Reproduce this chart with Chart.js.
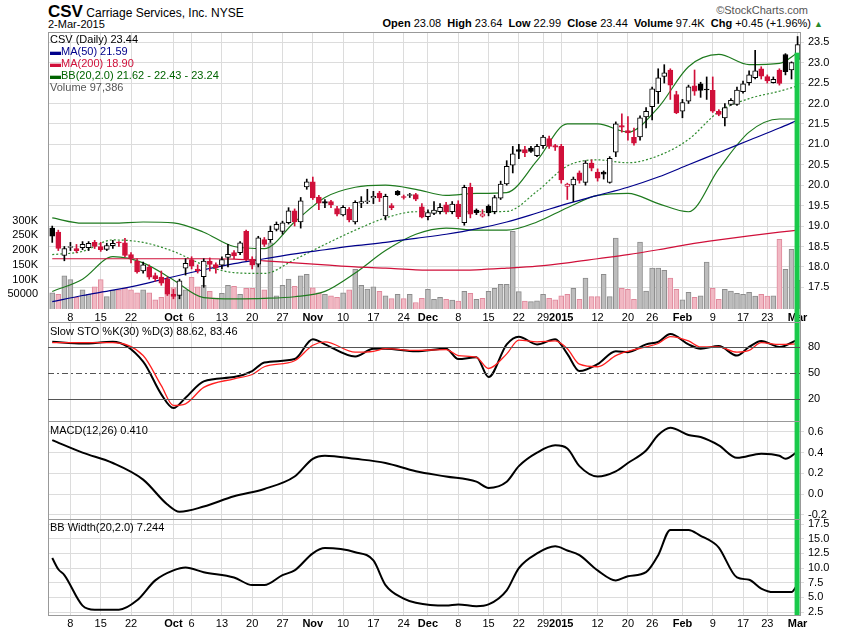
<!DOCTYPE html>
<html>
<head>
<meta charset="utf-8">
<script src="https://cdn.jsdelivr.net/npm/chart.js@4.4.1/dist/chart.umd.min.js"></script>
<style>
  body { margin: 0; background: #fff; font-family: "Liberation Sans", Arial, sans-serif; }
  #wrap { position: relative; width: 850px; height: 633px; overflow: hidden; }
  .pane { position: absolute; left: 0; width: 850px; }
  .txt { position: absolute; font-size: 11px; white-space: nowrap; z-index: 5; }
  .lg div { line-height: 12px; }
  b { font-weight: bold; }
</style>
</head>
<body>
<div id="wrap">
  <div class="txt" style="left:48px;top:2px;font-size:12px;"><b style="font-size:17px;">CSV</b> Carriage Services, Inc. NYSE</div>
  <div class="txt" style="left:48px;top:18px;font-size:11px;">2-Mar-2015</div>
  <div class="txt" style="right:42px;top:4px;color:#555;">©StockCharts.com</div>
  <div class="txt" style="right:27px;top:17px;"><b>Open</b> 23.08 &nbsp;<b>High</b> 23.64 &nbsp;<b>Low</b> 22.99 &nbsp;<b>Close</b> 23.44 &nbsp;<b>Volume</b> 97.4K &nbsp;<b>Chg</b> +0.45 (+1.96%) <span style="color:#2a8a2a;font-size:9px;">▲</span></div>
  <div class="txt lg" style="left:50px;top:33px;">
    <div>CSV (Daily) 23.44</div>
    <div style="color:#00008b;">▬MA(50) 21.59</div>
    <div style="color:#d0103a;">▬MA(200) 18.90</div>
    <div style="color:#006400;">▬BB(20,2.0) 21.62 - 22.43 - 23.24</div>
    <div style="color:#555;">Volume 97,386</div>
  </div>
  <div class="txt" style="left:50px;top:325px;">Slow STO %K(30) %D(3) 88.62, 83.46</div>
  <div class="txt" style="left:50px;top:424px;">MACD(12,26) 0.410</div>
  <div class="txt" style="left:50px;top:521px;">BB Width(20,2.0) 7.244</div>
  <div class="pane" style="top:32px;height:290px;"><canvas id="cMain"></canvas></div>
  <div class="pane" style="top:322px;height:99px;"><canvas id="cSto"></canvas></div>
  <div class="pane" style="top:421px;height:98px;"><canvas id="cMacd"></canvas></div>
  <div class="pane" style="top:519px;height:114px;"><canvas id="cBbw"></canvas></div>
</div>
<script>
// ---- eixo de datas (pregões de 3-set-2014 a 2-mar-2015) ----
const tickIdx = [3, 8, 13, 20, 23, 28, 33, 38, 43, 48, 53, 58, 62, 67, 72, 77, 81, 84, 90, 95, 99, 104, 109, 114, 118, 123];
const tickTexts = ['8', '15', '22', 'Oct', '6', '13', '20', '27', 'Nov', '10', '17', '24', 'Dec', '8', '15', '22', '29', '2015', '12', '20', '26', 'Feb', '9', '17', '23', 'Mar'];

// ---- preços diários ----
const opens = [18.95,18.85,18.28,18.48,18.45,18.47,18.47,18.60,18.50,18.43,18.52,18.59,18.59,18.30,18.14,17.90,17.99,17.79,17.75,17.71,
  17.33,17.30,17.97,18.18,17.95,17.76,18.14,18.06,18.04,18.23,18.35,18.35,18.87,18.19,18.07,18.67,18.67,18.92,18.87,19.08,19.37,19.10,19.96,
  20.08,19.71,19.60,19.60,19.43,19.27,19.41,19.10,19.56,19.60,19.69,19.81,19.25,19.50,19.85,19.70,19.75,19.77,19.47,
  19.23,19.31,19.35,19.52,19.35,19.54,19.08,19.95,19.39,19.24,19.48,19.35,19.68,20.03,20.49,20.87,20.87,20.91,20.72,20.97,21.14,20.97,
  20.95,19.97,20.01,20.30,20.07,20.54,20.32,20.32,20.07,20.81,21.46,21.34,21.17,21.18,21.67,21.92,22.29,22.66,22.82,22.22,
  21.81,22.06,22.43,22.48,22.33,22.32,21.81,21.65,21.98,21.98,22.29,22.51,22.63,22.85,22.66,22.51,22.82,23.20,22.82,
  23.08];
const closes = [18.75,18.45,18.45,18.50,18.40,18.55,18.58,18.50,18.42,18.52,18.58,18.57,18.28,18.22,17.88,18.05,17.75,17.71,17.60,17.33,
  17.28,17.66,18.09,18.02,17.91,18.14,18.06,17.98,18.18,18.31,18.27,18.59,18.19,18.04,18.71,18.55,18.87,19.04,19.08,19.37,19.10,19.62,20.08,
  19.69,19.56,19.56,19.52,19.29,19.46,19.15,19.58,19.60,19.61,19.73,19.69,19.73,19.45,19.77,19.70,19.77,19.66,19.22,
  19.33,19.39,19.46,19.35,19.54,19.23,19.95,19.29,19.33,19.30,19.33,19.70,20.03,20.46,20.77,20.83,20.79,20.83,20.95,21.18,20.95,20.93,
  20.13,20.03,20.15,20.12,20.54,20.42,20.17,20.27,20.66,21.50,21.42,21.28,21.03,21.65,21.81,22.36,22.63,22.75,22.45,21.77,
  22.02,22.41,22.30,22.32,22.33,21.81,21.73,21.90,22.08,22.33,22.48,22.70,22.80,22.67,22.55,22.59,22.49,22.78,23.00,
  23.44];
const highs = [19.00,18.90,18.50,18.60,18.55,18.62,18.62,18.65,18.60,18.58,18.65,18.62,18.70,18.35,18.20,18.12,18.05,17.85,17.90,17.75,
  17.45,17.70,18.20,18.25,18.05,18.20,18.22,18.10,18.25,18.55,18.40,18.62,18.90,18.25,18.75,18.72,19.00,19.10,19.12,19.45,19.42,19.70,20.15,
  20.20,19.75,19.65,19.63,19.48,19.50,19.45,19.62,19.72,19.90,19.85,19.85,19.78,19.55,19.87,19.76,19.80,19.80,19.55,
  19.40,19.60,19.55,19.58,19.60,19.62,20.00,20.05,19.42,19.40,19.52,19.75,20.10,20.60,20.95,21.00,20.95,20.95,21.00,21.22,21.20,21.00,
  21.00,20.05,20.20,20.35,20.60,20.62,20.40,20.35,20.70,21.55,21.75,21.68,21.40,21.70,21.90,22.40,22.85,22.95,22.85,22.30,
  22.10,22.45,22.82,22.52,22.65,22.65,21.85,22.00,22.12,22.40,22.55,22.80,23.30,22.90,22.70,22.65,22.85,23.22,23.02,
  23.64];
const lows = [18.60,18.40,18.15,18.40,18.35,18.42,18.40,18.45,18.38,18.40,18.45,18.50,18.25,18.10,17.85,17.85,17.70,17.65,17.55,17.30,
  17.22,17.22,17.80,17.95,17.85,17.50,17.90,17.85,17.95,18.00,18.20,18.30,18.15,17.95,18.00,18.50,18.60,18.88,18.80,19.05,19.00,18.95,19.90,
  19.65,19.40,19.45,19.45,19.25,19.25,19.10,19.05,19.45,19.55,19.55,19.60,19.15,19.40,19.75,19.66,19.70,19.62,19.20,
  19.15,19.28,19.30,19.30,19.30,19.18,19.02,19.20,19.28,19.22,19.25,19.30,19.65,20.00,20.30,20.65,20.70,20.80,20.70,20.90,20.90,20.85,
  20.05,19.65,19.60,20.05,20.00,20.35,20.10,20.15,20.05,20.70,21.30,21.10,20.98,21.10,21.40,21.60,22.00,22.50,22.10,21.75,
  21.65,22.00,22.20,22.15,22.10,21.78,21.70,21.45,21.95,21.95,22.25,22.45,22.60,22.60,22.50,22.50,22.45,22.70,22.60,
  22.99];
const volumes = [55,50,113,100,40,65,50,75,100,42,63,65,70,65,55,65,55,31,40,72,
  73,72,65,108,75,80,60,38,53,80,77,50,70,70,180,65,225,45,80,102,77,113,118,
  72,55,50,45,40,55,65,135,80,68,75,60,45,35,50,35,50,22,36,
  67,33,40,33,30,27,60,53,33,36,60,70,84,84,264,59,27,25,28,50,36,31,
  45,50,70,33,105,42,42,118,42,241,70,67,33,227,61,139,139,131,105,67,
  31,57,40,45,159,70,33,67,61,53,50,57,44,50,44,45,237,135,203,
  97.4];

// ---- indicadores (lidos a cada poucos pregões) ----
const ovIdx = [0,5,10,15,20,25,30,35,40,45,50,55,60,65,70,75,80,85,90,95,100,105,110,115,120,123];
const ma50 = [17.15,17.3,17.43,17.58,17.76,17.93,18.08,18.2,18.32,18.42,18.52,18.6,18.7,18.8,18.93,19.1,19.32,19.55,19.75,19.95,20.2,20.5,20.8,21.1,21.4,21.59];
const ma200 = [18.2,18.2,18.2,18.2,18.2,18.2,18.19,18.15,18.1,18.05,18.0,17.97,17.93,17.92,17.93,17.97,18.02,18.1,18.2,18.3,18.42,18.55,18.66,18.76,18.85,18.9];
const bbUpper = [19.2,19.07,19.07,19.1,19.08,18.85,18.5,18.45,19.1,19.7,19.95,20.0,19.9,19.75,19.8,19.82,20.6,21.5,21.5,21.3,21.9,22.9,23.2,22.95,22.98,23.24];
const bbMid = [18.3,18.38,18.66,18.6,18.38,18.05,17.86,17.84,18.18,18.55,18.9,19.2,19.35,19.35,19.35,19.36,19.85,20.47,20.62,20.55,20.72,21.12,21.8,22.12,22.3,22.43];
const bbLower = [17.4,17.7,18.25,18.1,17.68,17.25,17.22,17.23,17.27,17.4,17.85,18.4,18.8,18.95,18.9,18.9,19.1,19.45,19.75,19.8,19.55,19.35,20.4,21.3,21.62,21.62];

const stoIdx = [0,5,10,15,18,20,22,25,30,33,35,40,43,45,50,53,55,60,65,67,70,72,75,77,80,83,85,87,90,93,95,98,100,102,105,107,110,113,115,117,120,123];
const stoK = [86,84,86,63,25,9,21,40,45,52,62,66,89,83,69,78,78,75,78,66,68,45,83,92,83,89,72,52,60,75,74,83,86,95,83,78,81,70,80,87,80,88.6];
const stoD = [85,85,85,70,35,12,14,33,43,48,57,64,82,86,74,75,78,76,77,70,68,55,72,88,86,87,78,60,57,70,75,80,84,92,87,80,80,74,76,85,83,83.5];

const macdIdx = [0,5,10,15,19,21,25,30,35,40,43,45,50,55,60,65,70,72,75,77,80,83,85,87,90,93,95,98,100,102,105,107,110,113,117,120,121,123];
const macd = [0.52,0.40,0.30,0.14,-0.10,-0.17,-0.12,-0.02,0.05,0.17,0.34,0.37,0.34,0.30,0.22,0.17,0.12,0.06,0.12,0.27,0.40,0.47,0.44,0.27,0.17,0.22,0.30,0.42,0.57,0.64,0.57,0.55,0.47,0.35,0.39,0.37,0.34,0.41];

const bbwIdx = [0,1,2,5,7,11,14,17,20,22,25,30,33,35,38,40,43,45,50,53,55,58,60,65,67,70,72,75,77,80,83,85,87,90,93,95,98,100,102,105,107,109,110,113,115,117,119,122,123];
const bbw = [11.7,9.8,8.8,3.6,2.9,2.9,4.5,7.9,9.6,10.1,9.3,8.4,7.1,7.1,8.8,9.6,12.5,13.4,12.7,11.3,7.1,4.8,4.1,3.6,3.8,3.5,3.8,6.2,10,12.5,13.7,13,12.2,9.6,7.9,8.6,9.3,12.2,16.5,16.5,15.5,14.4,13.5,8.4,8.0,6.5,5.9,5.9,7.24];

// ---- escalas ----
const priceTicks = [17.5,18.0,18.5,19.0,19.5,20.0,20.5,21.0,21.5,22.0,22.5,23.0,23.5];
const volTicks = [50000,100000,150000,200000,250000,300000];
const stoTicks = [20,50,80];
const macdTicks = [-0.2,0.0,0.2,0.4,0.6];
const bbwTicks = [2.5,5.0,7.5,10.0,12.5,15.0,17.5];

const RED = '#d0103a';
const GRID = '#dcdcdc';
const FONT = { family: '"Liberation Sans", Arial, sans-serif', size: 11 };

function pts(idx, vals) {
    return idx.map((x, i) => ({ x, y: vals[i] }));
}

// cor do candle: preto se fechou acima do anterior, vermelho se abaixo
const candleColor = closes.map((c, i) => (i > 0 && c < closes[i - 1]) ? RED : '#000');

function xScale(showLabels, hExtra) {
    return {
        type: 'linear', min: -0.7, max: 123.4, offset: false,
        afterBuildTicks: (s) => { s.ticks = tickIdx.map((v) => ({ value: v })); },
        afterFit: (s) => { s.height = hExtra; s.paddingLeft = 0; s.paddingRight = 0; },
        grid: { color: GRID, drawTicks: false, offset: false },
        border: { display: false },
        ticks: {
            display: showLabels, padding: 2, color: '#000', maxRotation: 0, autoSkip: false,
            callback: (v) => tickTexts[tickIdx.indexOf(v)],
            font: (ctx) => {
                const t = tickTexts[tickIdx.indexOf(ctx.tick && ctx.tick.value)] || '';
                return Object.assign({}, FONT, { weight: /^\d+$/.test(t) && t !== '2015' ? 'normal' : 'bold' });
            },
        },
    };
}

function rightAxis(min, max, ticks, digits, showGrid) {
    return {
        position: 'right', min, max,
        afterBuildTicks: (s) => { s.ticks = ticks.map((v) => ({ value: v })); },
        afterFit: (s) => { s.width = 50; s.paddingTop = 0; s.paddingBottom = 0; },
        grid: { display: showGrid, color: GRID, drawTicks: true, tickLength: 4 },
        border: { display: false },
        ticks: { color: '#000', font: FONT, padding: 4, autoSkip: false, callback: (v) => v.toFixed(digits) },
    };
}

// moldura + barra verde do último pregão
const framePlugin = {
    id: 'frame',
    afterDatasetsDraw(chart, args, opts) {
        const a = chart.chartArea;
        const ctx = chart.ctx;
        const xs = chart.scales.x;
        const last = xs.getPixelForValue(123);
        let top = a.top;
        if (opts.fromClose) top = chart.scales.y.getPixelForValue(closes[123]) + 8;
        ctx.save();
        ctx.fillStyle = '#19c94a';
        ctx.fillRect(last - 3, top, 5, a.bottom + (opts.extra || 0) - top);
        ctx.strokeStyle = '#999';
        ctx.lineWidth = 1;
        ctx.strokeRect(a.left + 0.5, a.top + 0.5, a.right - a.left, a.bottom - a.top + (opts.extra || 0));
        (opts.refLines || []).forEach((r) => {
            const y = Math.round(chart.scales.y.getPixelForValue(r.v)) + 0.5;
            ctx.strokeStyle = '#555';
            ctx.setLineDash(r.dash || []);
            ctx.beginPath(); ctx.moveTo(a.left, y); ctx.lineTo(a.right, y); ctx.stroke();
        });
        ctx.restore();
    },
};

const baseOpts = {
    responsive: true, maintainAspectRatio: false, animation: false,
    plugins: { legend: { display: false }, tooltip: { enabled: false } },
};

function lineDs(data, color, width, extra) {
    return Object.assign({
        type: 'line', data, borderColor: color, borderWidth: width, pointRadius: 0,
        tension: 0.4, cubicInterpolationMode: 'monotone', fill: false, order: 5, yAxisID: 'y',
    }, extra || {});
}

// ---- gráfico principal: candles + MAs + bandas + volume ----
new Chart(document.getElementById('cMain'), {
    type: 'bar',
    data: {
        datasets: [
            {
                type: 'bar', yAxisID: 'vol', order: 10, grouped: false, barThickness: 5,
                data: volumes.map((v, i) => ({ x: i, y: v * 1000 })),
                backgroundColor: candleColor.map((c) => c === RED ? '#f1b8c3' : '#bdbdbd'),
                borderColor: candleColor.map((c) => c === RED ? '#e0899c' : '#8c8c8c'),
                borderWidth: 1,
            },
            lineDs(pts(ovIdx, ma200), RED, 1.2),
            lineDs(pts(ovIdx, ma50), '#00008b', 1.2),
            lineDs(pts(ovIdx, bbUpper), '#1e7a1e', 1.2),
            lineDs(pts(ovIdx, bbLower), '#1e7a1e', 1.2),
            lineDs(pts(ovIdx, bbMid), '#2e8b2e', 1.2, { borderDash: [2, 2] }),
            {
                type: 'bar', yAxisID: 'y', order: 2, grouped: false, barThickness: 1,
                data: highs.map((h, i) => ({ x: i, y: [lows[i], h] })),
                backgroundColor: candleColor, borderWidth: 0,
            },
            {
                type: 'bar', yAxisID: 'y', order: 1, grouped: false, barThickness: 5,
                data: opens.map((o, i) => ({ x: i, y: [o, Math.abs(closes[i] - o) < 0.02 ? o + 0.02 : closes[i]] })),
                backgroundColor: closes.map((c, i) => c > opens[i] ? '#fff' : candleColor[i]),
                borderColor: candleColor, borderWidth: 1, borderSkipped: false,
            },
        ],
    },
    options: Object.assign({}, baseOpts, {
        layout: { padding: 0 },
        scales: {
            x: xScale(true, 13),
            y: rightAxis(16.97, 23.75, priceTicks, 1, true),
            vol: {
                position: 'left', min: 0, max: 941000,
                afterBuildTicks: (s) => { s.ticks = volTicks.map((v) => ({ value: v })); },
                afterFit: (s) => { s.width = 48; s.paddingTop = 0; s.paddingBottom = 0; },
                grid: { display: false }, border: { display: false },
                ticks: { color: '#000', font: FONT, padding: 2, autoSkip: false, callback: (v) => v >= 100000 ? (v / 1000) + 'K' : v },
            },
        },
        plugins: Object.assign({}, baseOpts.plugins, { frame: { fromClose: true, extra: 13 } }),
    }),
    plugins: [framePlugin],
});

// ---- Slow STO ----
new Chart(document.getElementById('cSto'), {
    type: 'line',
    data: {
        datasets: [
            lineDs(pts(stoIdx, stoD), '#ff2020', 1.3),
            lineDs(pts(stoIdx, stoK), '#000', 2),
        ],
    },
    options: Object.assign({}, baseOpts, {
        layout: { padding: { left: 48 } },
        scales: { x: xScale(false, 0), y: rightAxis(-6, 109, stoTicks, 0, false) },
        plugins: Object.assign({}, baseOpts.plugins, {
            frame: { refLines: [{ v: 80 }, { v: 50, dash: [6, 3, 2, 3] }, { v: 20 }] },
        }),
    }),
    plugins: [framePlugin],
});

// ---- MACD ----
new Chart(document.getElementById('cMacd'), {
    type: 'line',
    data: { datasets: [lineDs(pts(macdIdx, macd), '#000', 2)] },
    options: Object.assign({}, baseOpts, {
        layout: { padding: { left: 48 } },
        scales: { x: xScale(false, 0), y: rightAxis(-0.24, 0.705, macdTicks, 1, true) },
        plugins: Object.assign({}, baseOpts.plugins, { frame: {} }),
    }),
    plugins: [framePlugin],
});

// ---- BB Width ----
new Chart(document.getElementById('cBbw'), {
    type: 'line',
    data: { datasets: [lineDs(pts(bbwIdx, bbw), '#000', 2)] },
    options: Object.assign({}, baseOpts, {
        layout: { padding: { left: 48 } },
        scales: { x: xScale(true, 18), y: rightAxis(2.0, 18.36, bbwTicks, 1, true) },
        plugins: Object.assign({}, baseOpts.plugins, { frame: {} }),
    }),
    plugins: [framePlugin],
});
</script>
</body>
</html>
